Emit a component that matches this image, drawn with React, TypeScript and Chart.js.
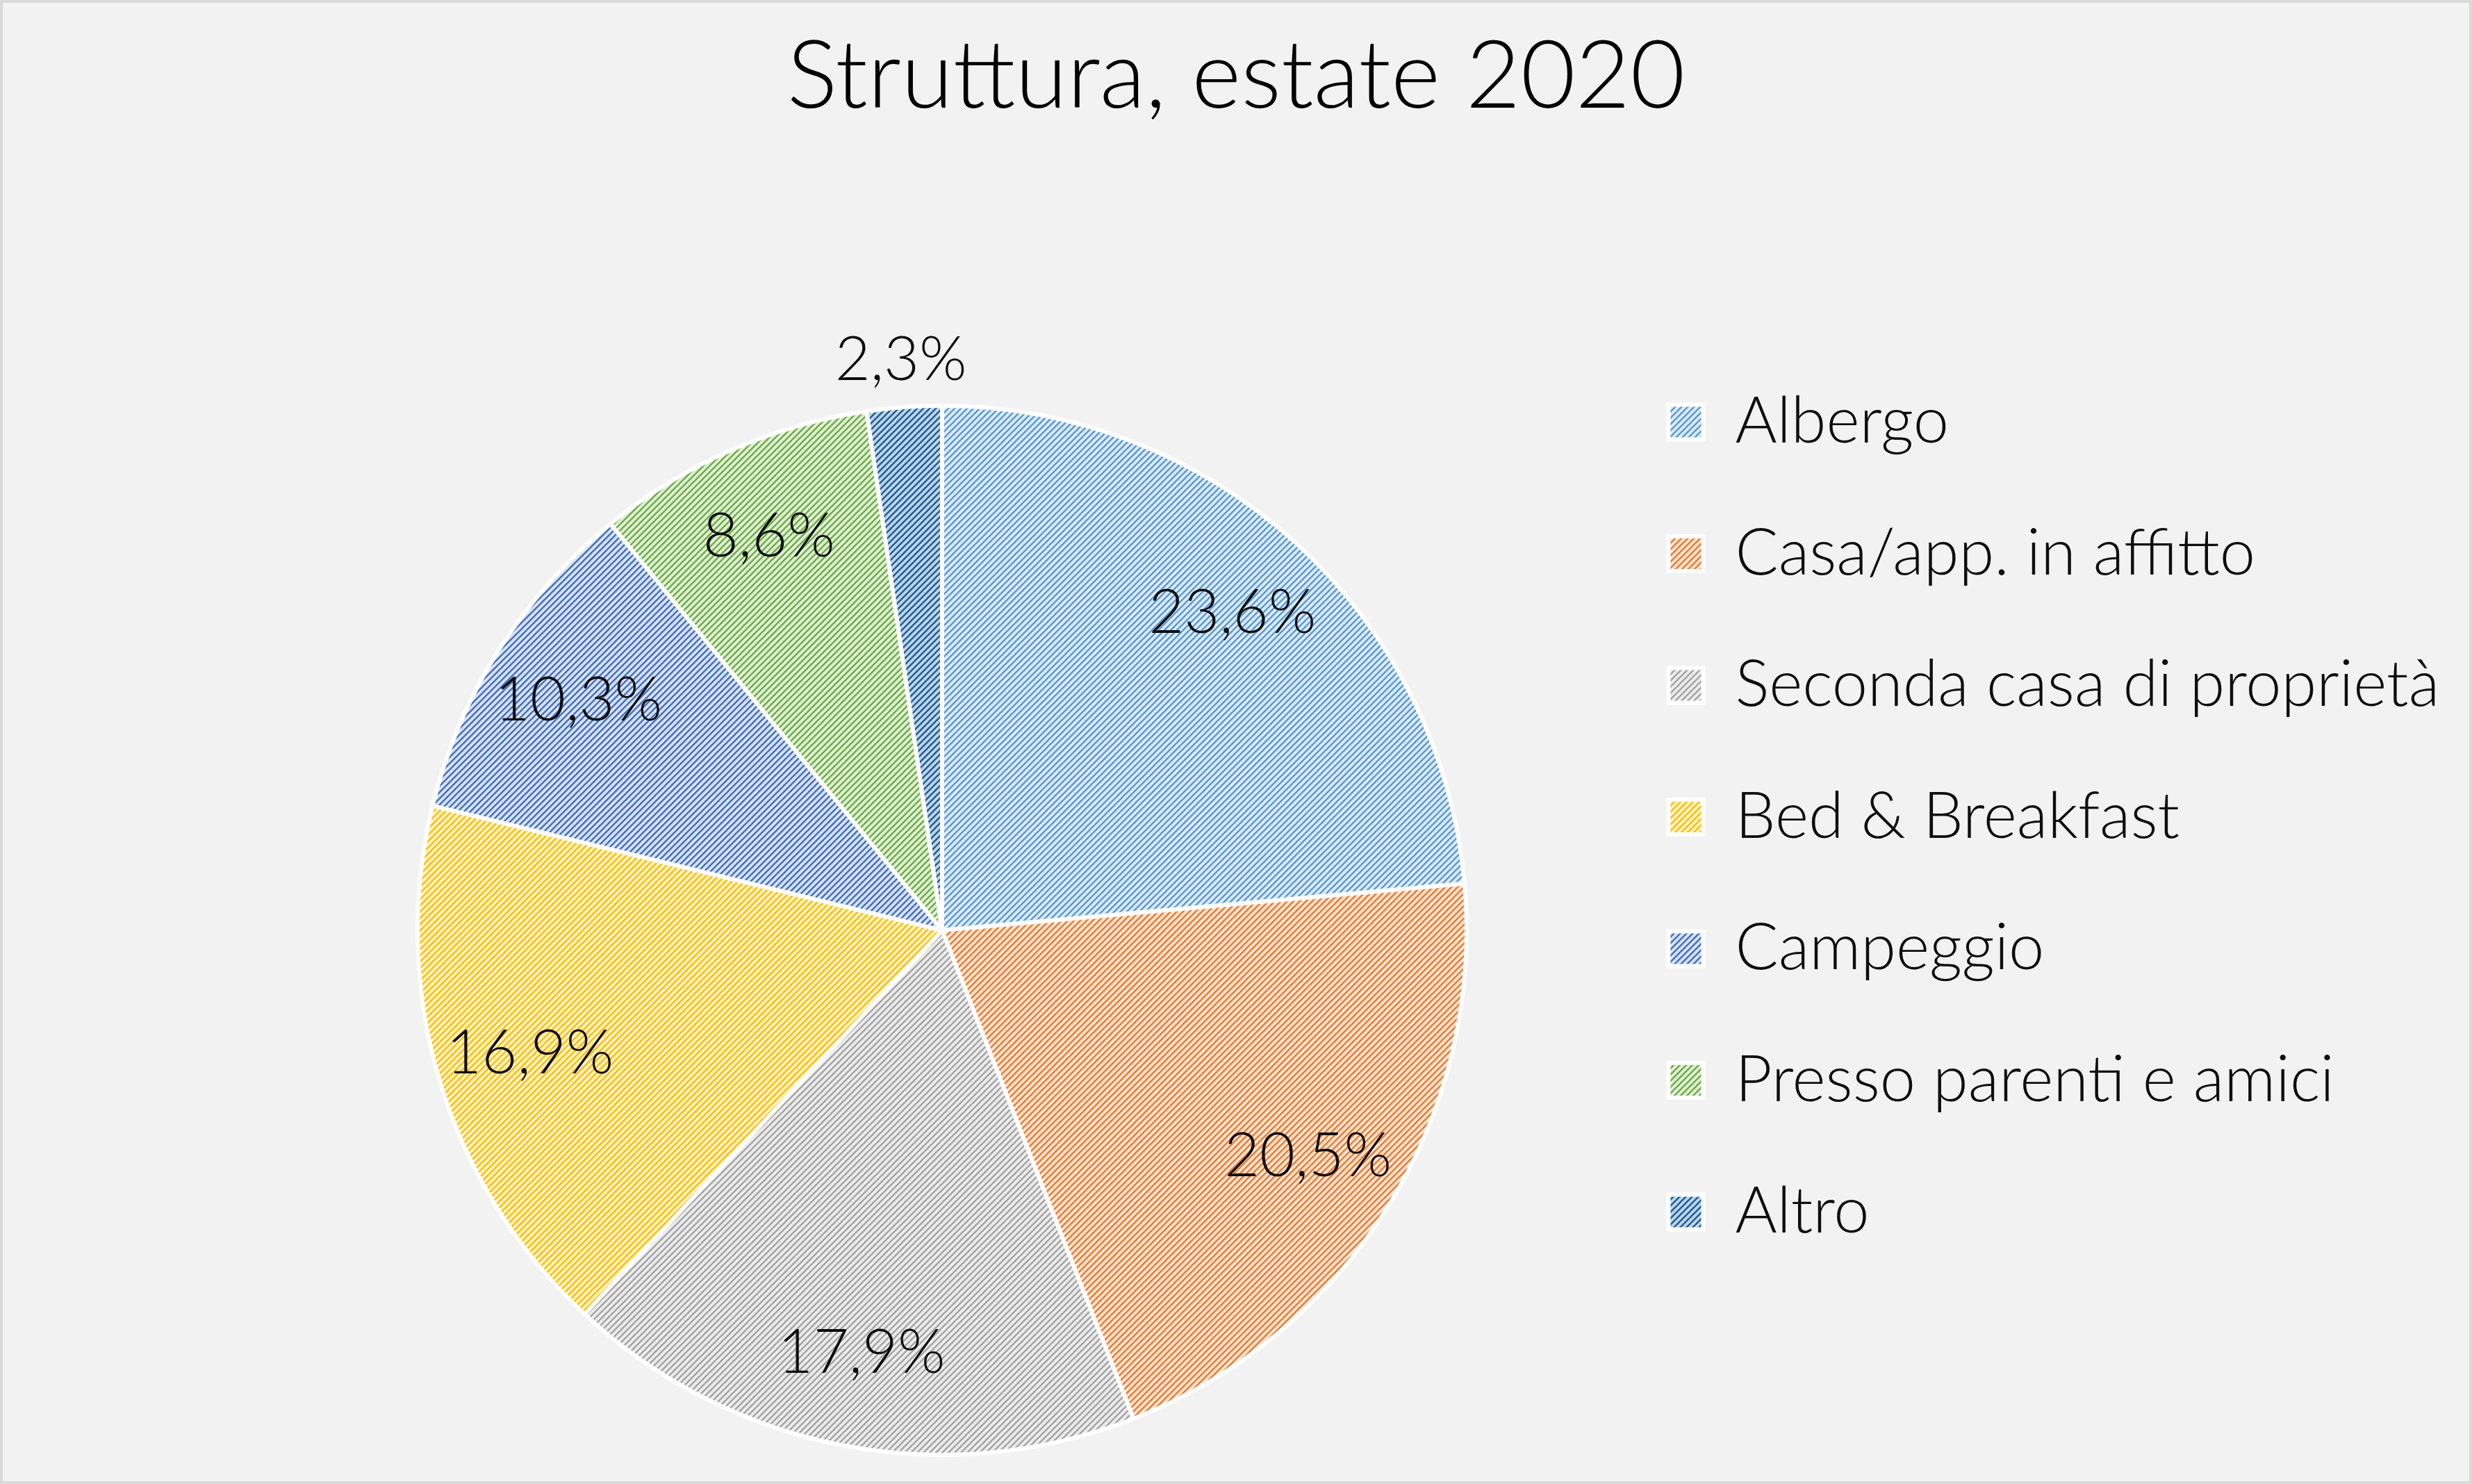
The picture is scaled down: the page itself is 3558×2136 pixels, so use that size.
import { useEffect, useRef } from 'react';
import { Chart, registerables, type Plugin } from 'chart.js';

Chart.register(...registerables);

const TITLE = 'Struttura, estate 2020';
const LABELS = [
  'Albergo',
  'Casa/app. in affitto',
  'Seconda casa di proprietà',
  'Bed & Breakfast',
  'Campeggio',
  'Presso parenti e amici',
  'Altro',
];
const VALUES = [23.6, 20.5, 17.9, 16.9, 10.3, 8.6, 2.3];
const LINE_COLORS = ['#5b9bd5', '#ed7d31', '#a5a5a5', '#ffc000', '#4472c4', '#70ad47', '#255e91'];
const BG_COLORS = ['#deebf7', '#fbe5d6', '#ededed', '#fff2cc', '#dae3f3', '#e2f0d9', '#bdd7ee'];

const FONT = "Lato, 'Open Sans', sans-serif";

// fine "/" hatch like the Excel pattern fill
function hatch(bg: string, fg: string) {
  const size = 9;
  const c = document.createElement('canvas');
  c.width = size;
  c.height = size;
  const ctx = c.getContext('2d')!;
  ctx.fillStyle = bg;
  ctx.fillRect(0, 0, size, size);
  ctx.strokeStyle = fg;
  ctx.lineWidth = 2.6;
  for (const o of [-size, 0, size]) {
    ctx.beginPath();
    ctx.moveTo(o - 1, size + 1);
    ctx.lineTo(o + size + 1, -1);
    ctx.stroke();
  }
  return ctx.createPattern(c, 'repeat')!;
}

function fmtPct(v: number) {
  return v.toFixed(1).replace('.', ',') + '%';
}

const frame: Plugin<'pie'> = {
  id: 'frame',
  beforeDraw(chart) {
    const { ctx, width, height } = chart;
    ctx.save();
    ctx.fillStyle = '#f2f2f2';
    ctx.fillRect(0, 0, width, height);
    ctx.strokeStyle = '#d9d9d9';
    ctx.lineWidth = 4;
    ctx.strokeRect(2, 2, width - 4, height - 4);
    ctx.restore();
  },
};

// Excel puts the legend higher than the pie centre and lets it run to the edge
const legendBox: Plugin<'pie'> = {
  id: 'legendBox',
  afterLayout(chart) {
    const lg = chart.legend as any;
    if (!lg) return;
    lg.left = 2304;
    lg.right = chart.width;
    lg.width = lg.right - lg.left;
    lg.top = 464;
    lg.bottom = chart.height;
    lg.height = lg.bottom - lg.top;
  },
};

const pctLabels: Plugin<'pie'> = {
  id: 'pctLabels',
  afterDatasetsDraw(chart) {
    const { ctx } = chart;
    const meta = chart.getDatasetMeta(0);
    ctx.save();
    ctx.font = `300 88px ${FONT}`;
    ctx.fillStyle = '#0d0d0d';
    ctx.textAlign = 'center';
    ctx.textBaseline = 'middle';
    meta.data.forEach((el, i) => {
      const { x, y, startAngle, endAngle, outerRadius } = el.getProps(
        ['x', 'y', 'startAngle', 'endAngle', 'outerRadius'],
        true
      ) as any;
      const v = VALUES[i];
      const mid = (startAngle + endAngle) / 2;
      // small slices get their label outside the pie
      const r = outerRadius * (v < 5 ? 1.09 : 0.82);
      ctx.fillText(fmtPct(v), x + Math.cos(mid) * r, y + Math.sin(mid) * r);
    });
    ctx.restore();
  },
};

export default function App() {
  const canvasRef = useRef<HTMLCanvasElement>(null);

  useEffect(() => {
    if (!canvasRef.current) return;
    const chart = new Chart(canvasRef.current, {
      type: 'pie',
      data: {
        labels: LABELS,
        datasets: [
          {
            data: VALUES,
            backgroundColor: LINE_COLORS.map((c, i) => hatch(BG_COLORS[i], c)),
            borderColor: '#ffffff',
            borderWidth: 6,
            hoverOffset: 0,
            radius: 755,
          },
        ],
      },
      options: {
        responsive: true,
        maintainAspectRatio: false,
        animation: false,
        events: [],
        layout: { padding: { left: 412, right: 412, top: 0, bottom: 0 } },
        plugins: {
          title: {
            display: true,
            text: TITLE,
            color: '#000000',
            font: { family: FONT, size: 136, weight: 300 },
            padding: { top: 30, bottom: 349 },
          },
          legend: {
            position: 'right',
            align: 'start',
            maxWidth: 846,
            labels: {
              font: { family: FONT, size: 92, weight: 300 },
              color: '#0d0d0d',
              boxWidth: 50,
              boxHeight: 50,
              padding: 97.5,
            },
          },
          tooltip: { enabled: false },
        },
      },
      plugins: [frame, legendBox, pctLabels],
    });
    return () => chart.destroy();
  }, []);

  return (
    <div style={{ position: 'fixed', left: 0, top: 0, width: 3558, height: 2136 }}>
      <canvas ref={canvasRef} />
    </div>
  );
}
